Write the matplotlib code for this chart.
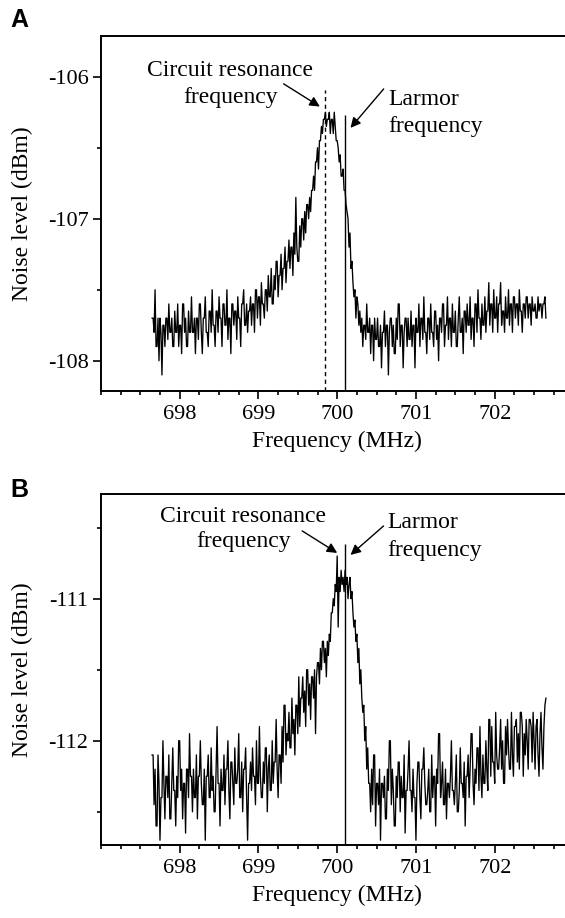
import numpy as np
import matplotlib.pyplot as plt
from matplotlib.ticker import MultipleLocator

# sweep of the spectrum analyser (MHz), 401 points
f_start = 697.65
f_stop = 702.65

# panel A: noise level (dBm)
noise_a = [
    -107.7, -107.7, -107.8, -107.5, -107.9, -107.9, -107.7, -108.0, -107.7, -107.8,
    -108.1, -107.75, -107.75, -107.9, -107.7, -107.7, -107.85, -107.6, -107.8, -107.8,
    -107.7, -107.9, -107.9, -107.65, -107.8, -107.8, -107.6, -107.9, -107.75, -107.75,
    -107.95, -107.6, -107.6, -107.8, -107.7, -107.9, -107.9, -107.65, -107.8, -107.8,
    -107.55, -107.8, -107.8, -107.7, -107.95, -107.7, -107.7, -107.85, -107.6, -107.6,
    -107.8, -107.95, -107.7, -107.7, -107.55, -107.8, -107.8, -107.9, -107.65, -107.65,
    -107.8, -107.5, -107.75, -107.75, -107.9, -107.65, -107.65, -107.8, -107.55, -107.7,
    -107.7, -107.9, -107.6, -107.6, -107.75, -107.75, -107.5, -107.85, -107.7, -107.7,
    -107.95, -107.6, -107.6, -107.75, -107.65, -107.65, -107.85, -107.55, -107.7, -107.7,
    -107.9, -107.6, -107.6, -107.5, -107.75, -107.75, -107.6, -107.8, -107.65, -107.65,
    -107.55, -107.75, -107.6, -107.6, -107.8, -107.5, -107.5, -107.7, -107.55, -107.55,
    -107.75, -107.45, -107.6, -107.6, -107.7, -107.5, -107.5, -107.65, -107.4, -107.55,
    -107.55, -107.35, -107.6, -107.6, -107.4, -107.5, -107.3, -107.3, -107.55, -107.4,
    -107.4, -107.25, -107.5, -107.35, -107.35, -107.2, -107.45, -107.3, -107.3, -107.15,
    -107.35, -107.2, -107.2, -107.4, -107.1, -107.25, -106.85, -107.2, -107.3, -107.3,
    -107.05, -107.2, -107.0, -107.0, -107.15, -106.95, -107.1, -106.9, -106.9, -107.0,
    -106.85, -106.95, -106.8, -106.8, -106.7, -106.8, -106.6, -106.6, -106.5, -106.65,
    -106.45, -106.45, -106.35, -106.4, -106.3, -106.3, -106.25, -106.35, -106.3, -106.3,
    -106.25, -106.4, -106.3, -106.3, -106.4, -106.25, -106.35, -106.45, -106.45, -106.5,
    -106.6, -106.55, -106.7, -106.7, -106.65, -106.8, -106.8, -106.9, -106.95, -107.0,
    -107.2, -107.1, -107.35, -107.3, -107.45, -107.55, -107.5, -107.7, -107.55, -107.6,
    -107.75, -107.65, -107.8, -107.7, -107.9, -107.75, -107.75, -107.85, -107.6, -107.8,
    -107.8, -107.7, -107.95, -107.75, -107.75, -108.0, -107.7, -107.85, -107.85, -107.7,
    -107.9, -107.9, -107.75, -108.05, -107.8, -107.8, -107.65, -107.9, -107.75, -107.75,
    -108.1, -107.8, -107.7, -107.7, -107.9, -107.75, -107.95, -107.95, -107.7, -107.85,
    -107.6, -107.6, -107.9, -107.75, -107.75, -108.05, -107.8, -107.7, -107.7, -107.9,
    -107.7, -107.85, -107.85, -107.65, -107.9, -107.75, -107.75, -108.05, -107.7, -107.8,
    -107.8, -107.6, -107.9, -107.7, -107.7, -107.85, -107.55, -107.8, -107.8, -107.95,
    -107.7, -107.7, -107.85, -107.6, -107.8, -107.8, -107.9, -107.65, -107.65, -107.85,
    -107.75, -108.0, -107.7, -107.7, -107.8, -107.6, -107.6, -107.9, -107.75, -107.75,
    -107.55, -107.85, -107.7, -107.7, -107.9, -107.6, -107.8, -107.8, -107.65, -107.9,
    -107.9, -107.7, -107.55, -107.8, -107.8, -107.7, -107.95, -107.65, -107.65, -107.8,
    -107.6, -107.75, -107.75, -107.55, -107.85, -107.7, -107.7, -107.9, -107.6, -107.6,
    -107.8, -107.5, -107.7, -107.7, -107.85, -107.6, -107.75, -107.75, -107.55, -107.8,
    -107.65, -107.65, -107.45, -107.75, -107.6, -107.6, -107.8, -107.5, -107.7, -107.7,
    -107.55, -107.8, -107.6, -107.6, -107.45, -107.75, -107.65, -107.65, -107.8, -107.55,
    -107.7, -107.7, -107.5, -107.75, -107.6, -107.6, -107.8, -107.55, -107.55, -107.7,
    -107.6, -107.6, -107.75, -107.5, -107.65, -107.65, -107.8, -107.6, -107.6, -107.7,
    -107.55, -107.55, -107.7, -107.6, -107.6, -107.75, -107.55, -107.65, -107.65, -107.6,
    -107.7, -107.7, -107.55, -107.65, -107.6, -107.6, -107.7, -107.6, -107.6, -107.55,
    -107.7,
]

# panel B: noise level (dBm)
noise_b = [
    -112.1, -112.1, -112.45, -112.2, -112.6, -112.6, -112.1, -112.3, -112.7, -112.4,
    -112.4, -112.0, -112.3, -112.55, -112.25, -112.25, -112.4, -112.1, -112.55, -112.55,
    -112.3, -112.05, -112.35, -112.35, -112.6, -112.25, -112.4, -112.0, -112.0, -112.35,
    -112.2, -112.55, -112.3, -112.3, -112.65, -112.2, -112.2, -112.4, -111.95, -112.25,
    -112.25, -112.5, -112.2, -112.4, -112.4, -112.1, -112.55, -112.25, -112.25, -112.0,
    -112.3, -112.45, -112.45, -112.2, -112.7, -112.25, -112.25, -112.1, -112.4, -112.4,
    -112.05, -112.35, -112.25, -112.5, -112.5, -112.2, -111.9, -112.3, -112.3, -112.6,
    -112.2, -112.35, -112.35, -112.1, -112.45, -112.2, -112.2, -112.0, -112.35, -112.55,
    -112.15, -112.15, -112.3, -112.45, -112.05, -112.3, -112.3, -112.2, -111.95, -112.4,
    -112.4, -112.15, -112.5, -112.2, -112.2, -112.05, -112.4, -112.7, -112.3, -112.3,
    -112.15, -112.35, -112.05, -112.25, -112.25, -112.45, -112.0, -112.3, -112.3, -111.9,
    -112.25, -112.4, -112.4, -112.15, -112.3, -112.05, -112.05, -112.5, -112.2, -112.1,
    -112.35, -112.35, -112.0, -112.3, -112.15, -112.15, -111.85, -112.2, -112.4, -112.1,
    -112.1, -112.3, -111.9, -112.15, -111.75, -111.75, -112.1, -111.95, -112.0, -111.8,
    -112.05, -112.05, -111.7, -111.95, -111.85, -112.1, -111.75, -111.75, -111.95, -111.55,
    -111.9, -111.7, -111.7, -111.55, -111.8, -111.65, -111.9, -111.5, -111.5, -111.75,
    -111.6, -111.85, -111.55, -111.55, -111.7, -111.5, -111.95, -111.55, -111.45, -111.45,
    -111.6, -111.35, -111.5, -111.3, -111.3, -111.45, -111.35, -111.55, -111.3, -111.4,
    -111.25, -111.3, -111.1, -111.1, -111.0, -111.05, -110.9, -110.95, -110.7, -111.2,
    -110.85, -110.95, -110.8, -110.9, -110.85, -110.95, -110.8, -110.9, -110.85, -111.0,
    -110.9, -110.85, -111.0, -110.95, -111.1, -111.2, -111.15, -111.3, -111.25, -111.45,
    -111.35, -111.6, -111.5, -111.7, -111.8, -111.75, -112.0, -111.9, -112.2, -112.05,
    -112.3, -112.3, -112.5, -112.2, -112.45, -112.1, -112.1, -112.6, -112.3, -112.3,
    -112.45, -112.2, -112.7, -112.3, -112.3, -112.4, -112.25, -112.55, -112.55, -112.2,
    -112.35, -112.0, -112.0, -112.45, -112.2, -112.35, -112.6, -112.6, -112.25, -112.4,
    -112.15, -112.15, -112.5, -112.25, -112.4, -112.4, -112.1, -112.65, -112.35, -112.35,
    -112.2, -112.0, -112.35, -112.35, -112.5, -112.2, -112.4, -112.4, -112.7, -112.3,
    -112.15, -112.15, -112.4, -112.55, -112.2, -112.2, -112.05, -112.3, -112.45, -112.45,
    -112.35, -112.2, -112.5, -112.5, -112.1, -112.4, -112.25, -112.25, -112.6, -112.2,
    -112.3, -111.95, -111.95, -112.4, -112.3, -112.15, -112.45, -112.45, -112.2, -112.55,
    -112.3, -112.3, -112.4, -112.25, -112.0, -112.35, -112.35, -112.45, -112.3, -112.1,
    -112.5, -112.5, -112.35, -112.05, -112.3, -112.3, -112.4, -112.15, -112.6, -112.25,
    -112.25, -112.1, -112.4, -112.2, -111.95, -111.95, -112.3, -112.45, -112.2, -112.3,
    -112.05, -112.05, -112.35, -111.9, -112.25, -112.4, -112.1, -112.3, -112.3, -112.0,
    -112.2, -112.35, -111.85, -111.85, -112.25, -111.9, -112.15, -112.15, -112.3, -111.8,
    -112.1, -112.2, -112.2, -112.05, -111.85, -112.2, -112.0, -112.3, -112.3, -111.9,
    -112.1, -111.85, -112.05, -112.2, -112.2, -111.8, -112.1, -112.25, -111.9, -111.9,
    -111.85, -112.15, -111.95, -112.2, -111.8, -111.8, -111.9, -112.25, -111.95, -112.1,
    -111.85, -112.0, -112.2, -111.85, -111.85, -111.9, -112.15, -111.8, -112.0, -112.2,
    -111.9, -111.85, -112.1, -112.25, -111.95, -111.8, -112.05, -112.2, -111.9, -111.75,
    -111.7,
]

# marker lines: (frequency, top of line)
resonance_a = (699.85, -106.09)
larmor_a = (700.1, -106.27)
larmor_b = (700.1, -110.615)

plt.rcParams['font.family'] = ['Liberation Serif', 'DejaVu Serif']

fig = plt.figure(figsize=(5.65, 9.18), dpi=100)
ax_a = fig.add_axes([0.1786, 0.5741, 0.8364, 0.3867])
ax_b = fig.add_axes([0.1786, 0.0795, 0.8364, 0.3824])

arrow = dict(arrowstyle='-|>', color='black', lw=1.0, mutation_scale=15,
             shrinkA=0, shrinkB=0)


def style(ax, ylim, yticks):
    ax.set_xlim(697, 703)
    ax.set_ylim(*ylim)
    ax.set_xticks([698, 699, 700, 701, 702])
    ax.xaxis.set_minor_locator(MultipleLocator(0.25))
    ax.set_yticks(yticks)
    ax.yaxis.set_minor_locator(MultipleLocator(0.5))
    ax.tick_params(which='both', direction='out', top=False, right=False,
                   labelsize=16, width=1.2)
    ax.tick_params(which='major', length=6)
    ax.tick_params(which='minor', length=3)
    ax.tick_params(axis='x', pad=4)
    ax.tick_params(axis='y', pad=3)
    for s in ax.spines.values():
        s.set_linewidth(1.4)
    ax.set_yticklabels(['%d' % t for t in yticks])
    ax.set_xlabel('Frequency (MHz)', fontsize=17, labelpad=5)
    ax.set_ylabel('Noise level (dBm)', fontsize=17)
    ax.yaxis.set_label_coords(-0.143, 0.5)


# panel A
fa = np.linspace(f_start, f_stop, len(noise_a))
ax_a.plot(fa, noise_a, color='black', lw=0.95)
style(ax_a, (-108.213, -105.713), [-108, -107, -106])
ax_a.vlines(resonance_a[0], -108.213, resonance_a[1], colors='black',
            linestyles=(0, (3, 2.5)), lw=1.0)
ax_a.vlines(larmor_a[0], -108.213, larmor_a[1], colors='black', lw=1.0)
ax_a.text(698.64, -106.05, 'Circuit resonance\nfrequency', fontsize=17,
          ha='center', va='center', linespacing=1.4)
ax_a.annotate('', xy=(699.78, -106.21), xytext=(699.32, -106.05), arrowprops=arrow)
ax_a.text(700.645, -106.255, 'Larmor\nfrequency', fontsize=17,
          ha='left', va='center', linespacing=1.4)
ax_a.annotate('', xy=(700.169, -106.36), xytext=(700.59, -106.086), arrowprops=arrow)
fig.text(0.018, 0.978, 'A', fontsize=18, fontweight='bold',
         family='Liberation Sans', va='center', ha='left')

# panel B
fb = np.linspace(f_start, f_stop, len(noise_b))
ax_b.plot(fb, noise_b, color='black', lw=0.95)
style(ax_b, (-112.734, -110.263), [-112, -111])
ax_b.vlines(larmor_b[0], -112.734, larmor_b[1], colors='black', lw=1.0)
ax_b.text(698.81, -110.509, 'Circuit resonance\nfrequency', fontsize=17,
          ha='center', va='center', linespacing=1.3)
ax_b.annotate('', xy=(700.0, -110.678), xytext=(699.556, -110.523), arrowprops=arrow)
ax_b.text(700.64, -110.563, 'Larmor\nfrequency', fontsize=17,
          ha='left', va='center', linespacing=1.4)
ax_b.annotate('', xy=(700.169, -110.692), xytext=(700.589, -110.488), arrowprops=arrow)
fig.text(0.018, 0.466, 'B', fontsize=18, fontweight='bold',
         family='Liberation Sans', va='center', ha='left')

fig.savefig('out.png', dpi=100)
